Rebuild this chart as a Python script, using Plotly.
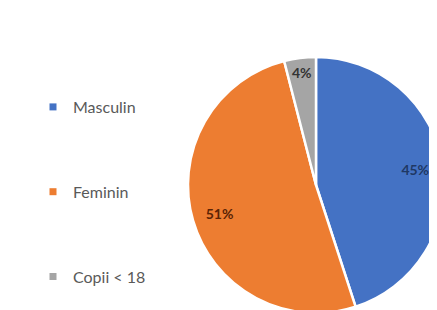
import plotly.graph_objects as go

labels = ["Masculin", "Feminin", "Copii < 18"]
values = [45, 51, 4]
colors = ["#4472C4", "#ED7D31", "#A5A5A5"]
text_colors = ["#1F3864", "#5A2305", "#333333"]

dom = dict(x=[180/437, 436/437], y=[1-305/310, 1-49/310])

fig = go.Figure()
fig.add_trace(go.Pie(
    labels=labels, values=values, sort=False, direction="clockwise", rotation=0,
    marker=dict(colors=colors, line=dict(color="white", width=2.5)),
    textinfo="none", showlegend=False, domain=dom,
    hoverinfo="label+percent",
))
# transparent ring only to place the percent labels near the outer edge
fig.add_trace(go.Pie(
    labels=labels, values=values, sort=False, direction="clockwise", rotation=0,
    hole=0.57,
    marker=dict(colors=["rgba(0,0,0,0)"] * 3, line=dict(width=0)),
    textinfo="percent", texttemplate="<b>%{percent:.0%}</b>",
    textposition="inside", insidetextorientation="horizontal",
    textfont=dict(family="Lato", size=14, color=text_colors),
    showlegend=False, domain=dom, hoverinfo="skip",
))
for lab, col in zip(labels, colors):
    fig.add_trace(go.Scatter(
        x=[None], y=[None], mode="markers", name=lab, legendgroup=lab,
        marker=dict(symbol="square", size=7, color=col),
    ))
fig.update_layout(
    width=437, height=310, margin=dict(l=0, r=0, t=0, b=0),
    paper_bgcolor="white", plot_bgcolor="white",
    xaxis=dict(visible=False), yaxis=dict(visible=False),
    legend=dict(x=25/437, y=1-82/310, xanchor="left", yanchor="top",
                font=dict(family="Lato", size=16, color="#595959"),
                tracegroupgap=61, itemwidth=30, bgcolor="rgba(0,0,0,0)"),
)
fig.write_html("out.html")
